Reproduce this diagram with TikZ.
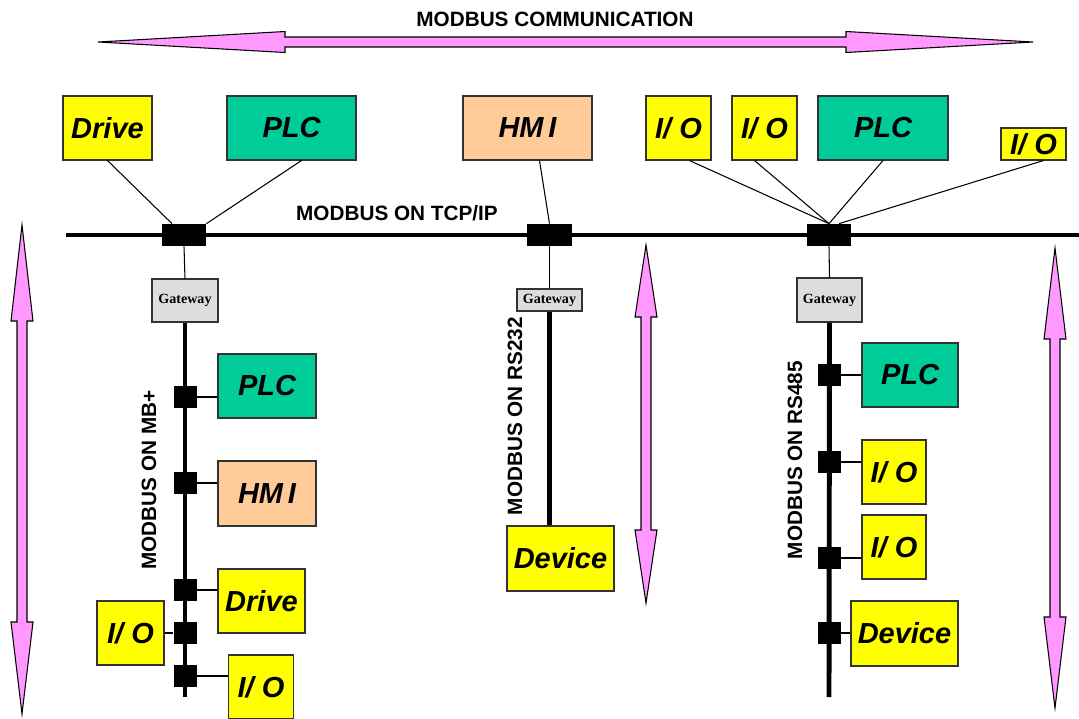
\documentclass[tikz,border=0pt]{standalone}
\usepackage{fontspec}
\setmainfont{Liberation Sans}
\newfontfamily\gwfont{Liberation Serif}
\usetikzlibrary{calc}
\definecolor{mbyellow}{HTML}{FFFF00}
\definecolor{mbgreen}{HTML}{00CC99}
\definecolor{mbpeach}{HTML}{FFCC99}
\definecolor{mbgray}{HTML}{DDDDDD}
\definecolor{mbpink}{HTML}{FF99FF}
\definecolor{mbedge}{HTML}{333333}
\tikzset{
  unit/.style    ={draw=mbedge, line width=0.6pt, inner sep=0pt,
                   font=\fontsize{16.5}{18}\selectfont\bfseries\itshape},
  wh/.style 2 args={minimum width=#1*0.02cm, minimum height=#2*0.02cm},
  io/.style      ={unit, fill=mbyellow},
  plc/.style     ={unit, fill=mbgreen},
  hmi/.style     ={unit, fill=mbpeach},
  gateway/.style ={unit, fill=mbgray, font=\gwfont\fontsize{8}{9}\selectfont\bfseries},
  tap/.style     ={fill=black, inner sep=0pt},
  bus/.style     ={line width=2.8pt},
  drop/.style    ={line width=0.6pt},
  netlabel/.style={font=\fontsize{11.8}{13}\selectfont\bfseries},
  biarrow/.style ={fill=mbpink, draw=black, line width=0.6pt},
}
\newcommand{\vbiarrow}[5]{%
  \draw[biarrow] (#1,#2) -- (#1+11,#3) -- (#1+5,#3) -- (#1+5,#4) -- (#1+11,#4)
    -- (#1,#5) -- (#1-11,#4) -- (#1-5,#4) -- (#1-5,#3) -- (#1-11,#3) -- cycle;}

\begin{document}
\begin{tikzpicture}[x=0.02cm, y=-0.02cm]
  \useasboundingbox (0,0) rectangle (1079,718);
  % big arrows
  \node[netlabel] (title) at (555,19) {MODBUS COMMUNICATION};
  \draw[biarrow] (98,42) -- (285,31.5) -- (285,37) -- (846,37) -- (846,31.5)
    -- (1033,42) -- (846,52.5) -- (846,47) -- (285,47) -- (285,52.5) -- cycle;
  \vbiarrow{22}{225}{321}{622}{714}
  \vbiarrow{646}{245}{317}{530}{603}
  \vbiarrow{1055}{248}{339}{617}{708}

  % TCP/IP level
  \node[io,wh={89}{64}]  (drv1) at (107.5,128) {Drive};
  \node[plc,wh={129}{64}] (plc1) at (291.5,128) {PLC};
  \node[hmi,wh={129}{64}] (hmi1) at (527.5,128) {HM\,I};
  \node[io,wh={65}{64}]  (io1) at (678.5,128) {I/ O};
  \node[io,wh={65}{64}]  (io2) at (764.5,128) {I/ O};
  \node[plc,wh={130}{64}] (plc2) at (883,128) {PLC};
  \node[io,wh={65}{32}]  (io3) at (1033.5,144) {I/ O};
  \node[netlabel] (tcplbl) at (397,213) {MODBUS ON TCP/IP};
  \coordinate (tcpL) at (66,235);
  \coordinate (tcpR) at (1079,235);
  \draw[bus] (tcpL) -- (tcpR);
  \node[tap,wh={44}{22}] (tA) at (184,235) {};
  \node[tap,wh={45}{22}] (tB) at (549.5,235) {};
  \node[tap,wh={44}{22}] (tC) at (829,235) {};
  \draw[drop] (drv1.south) -- ($(tA.north)+(-12,0)$);
  \draw[drop] ($(plc1.south)+(10,0)$) -- (tA.north east);
  \draw[drop] ($(hmi1.south)+(12,0)$) -- (tB.north);
  \draw[drop] ($(io1.south)+(11,0)$) -- (tC.north);
  \draw[drop] ($(io2.south)+(-10,0)$) -- (tC.north);
  \draw[drop] (plc2.south) -- (tC.north);
  \draw[drop] ($(io3.south)+(10,0)$) -- ($(tC.north)+(10,0)$);

  % MB+ branch
  \node[gateway,wh={66}{43}] (gw1) at (185,300.5) {Gateway};
  \coordinate (mbEnd) at (185,697);
  \draw[drop] (tA.south) -- (gw1.north);
  \draw[bus] (gw1.south) -- (mbEnd);
  \foreach \n/\yy in {1/397,2/483,3/590,4/633,5/676}
    \node[tap,wh={23}{22}] (mb\n) at (185,\yy) {};
  \node[netlabel,rotate=90] (mblbl) at (149,480) {MODBUS ON MB+};
  \node[plc,wh={98}{64}] (plc3) at (267,386) {PLC};
  \node[hmi,wh={98}{65}] (hmi2) at (267,493.5) {HM\,I};
  \node[io,wh={87}{64}]  (drv2) at (261.5,601) {Drive};
  \node[io,wh={67}{64}]  (io4) at (130.5,633) {I/ O};
  \node[io,wh={65}{64}]  (io5) at (261,687) {I/ O};
  \draw[drop] (mb1.east) -- (mb1.east -| plc3.west);
  \draw[drop] (mb2.east) -- (mb2.east -| hmi2.west);
  \draw[drop] (mb3.east) -- (mb3.east -| drv2.west);
  \draw[drop] (mb4.west) -- (mb4.west -| io4.east);
  \draw[drop] (mb5.east) -- (mb5.east -| io5.west);

  % RS232 branch
  \node[gateway,wh={65}{22}] (gw2) at (549.5,300) {Gateway};
  \node[io,wh={107}{65}] (dev1) at (560.5,558.5) {Device};
  \draw[drop] (tB.south) -- (gw2.north);
  \draw[bus] (gw2.south) -- (gw2.south |- dev1.north);
  \node[netlabel,rotate=90] (rs232lbl) at (515,416) {MODBUS ON RS232};

  % RS485 branch
  \node[gateway,wh={65}{44}] (gw3) at (829.5,300) {Gateway};
  \coordinate (rsEnd) at (829,697);
  \draw[drop] (tC.south) -- (gw3.north);
  \draw[bus] (gw3.south) -- (rsEnd);
  \foreach \n/\yy in {1/375,2/462,3/558,4/633}
    \node[tap,wh={23}{22}] (rs\n) at (829,\yy) {};
  \node[netlabel,rotate=90] (rs485lbl) at (795,460) {MODBUS ON RS485};
  \node[plc,wh={96}{64}] (plc4) at (910,375) {PLC};
  \node[io,wh={64}{64}]  (io6) at (894,472) {I/ O};
  \node[io,wh={64}{64}]  (io7) at (894,547) {I/ O};
  \node[io,wh={107}{65}] (dev2) at (904.5,633.5) {Device};
  \draw[drop] (rs1.east) -- (rs1.east -| plc4.west);
  \draw[drop] (rs2.east) -- (rs2.east -| io6.west);
  \draw[drop] (rs3.east) -- (rs3.east -| io7.west);
  \draw[drop] (rs4.east) -- (rs4.east -| dev2.west);
\end{tikzpicture}
\end{document}
